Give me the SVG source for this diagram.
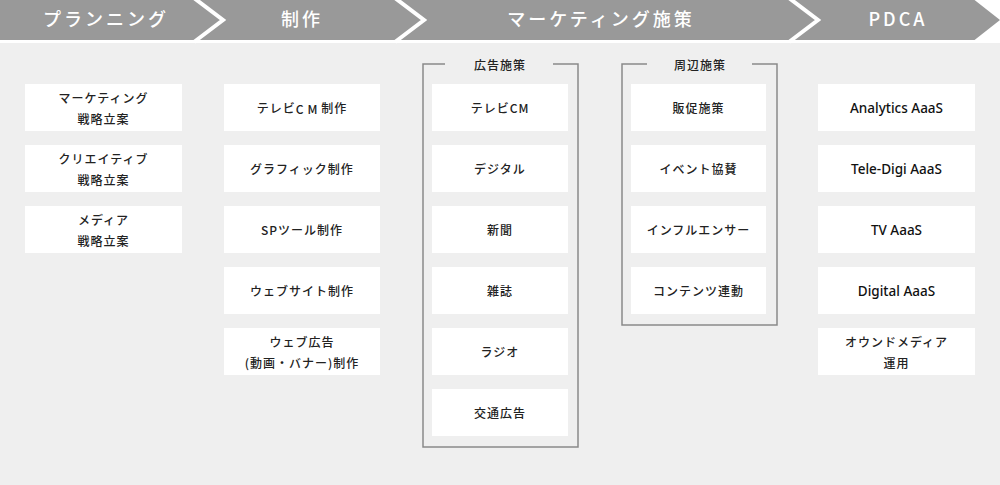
<svg xmlns="http://www.w3.org/2000/svg" width="1000" height="485" viewBox="0 0 1000 485">
<style>
.hd{fill:#fff;font-family:"Noto Sans CJK JP","Noto Sans",sans-serif;font-size:18px;font-weight:500;letter-spacing:3px;text-anchor:middle;dominant-baseline:central}
.bx{fill:#fff}
.t{fill:#222;font-family:"Noto Sans CJK JP","Noto Sans",sans-serif;font-size:12px;font-weight:500;letter-spacing:1px;text-anchor:middle;dominant-baseline:central}
.tl{fill:#111;font-family:"Noto Sans","DejaVu Sans",sans-serif;font-size:13.5px;font-weight:500;text-anchor:middle;dominant-baseline:central}
.fr{fill:none;stroke:#8a8a8a;stroke-width:1.5}
.cv{fill:none;stroke:#fff;stroke-width:4}
</style>
<rect x="0" y="0" width="1000" height="485" fill="#efefef"/>
<g id="header">
<rect x="0" y="0" width="1000" height="40" fill="#999"/>
<polygon points="972,-2 1000,20 972,42 1000,42 1000,-2" fill="#fff"/>
<polyline class="cv" points="194,-2 223,20 194,42"/>
<polyline class="cv" points="395,-2 424,20 395,42"/>
<polyline class="cv" points="789,-2 818,20 789,42"/>
<rect x="0" y="40" width="1000" height="3" fill="#fff"/>
<text class="hd" x="106" y="18">プランニング</text>
<text class="hd" x="302" y="18">制作</text>
<text class="hd" x="601" y="18">マーケティング施策</text>
<text class="hd" x="898" y="18">PDCA</text>
</g>
<g id="frames">
<path class="fr" d="M445,64 H423 V447 H578 V64 H553"/>
<text class="t" x="500" y="64" font-size="13">広告施策</text>
<path class="fr" d="M647,64 H622 V325 H777 V64 H752"/>
<text class="t" x="700" y="64" font-size="13">周辺施策</text>
</g>
<g id="planning">
<g id="p1"><rect class="bx" x="25" y="84" width="157" height="47"/><text class="t" x="103.5" y="97.5">マーケティング</text><text class="t" x="103.5" y="118">戦略立案</text></g>
<g id="p2"><rect class="bx" x="25" y="145" width="157" height="47"/><text class="t" x="103.5" y="158.5">クリエイティブ</text><text class="t" x="103.5" y="179">戦略立案</text></g>
<g id="p3"><rect class="bx" x="25" y="206" width="157" height="47"/><text class="t" x="103.5" y="219.5">メディア</text><text class="t" x="103.5" y="240">戦略立案</text></g>
</g>
<g id="production">
<g id="s1"><rect class="bx" x="224" y="84" width="156" height="47"/><text class="t" x="302" y="107.5">テレビ<tspan letter-spacing="4px">CM</tspan>制作</text></g>
<g id="s2"><rect class="bx" x="224" y="145" width="156" height="47"/><text class="t" x="302" y="168.5">グラフィック制作</text></g>
<g id="s3"><rect class="bx" x="224" y="206" width="156" height="47"/><text class="t" x="302" y="229.5">SPツール制作</text></g>
<g id="s4"><rect class="bx" x="224" y="267" width="156" height="47"/><text class="t" x="302" y="290.5">ウェブサイト制作</text></g>
<g id="s5"><rect class="bx" x="224" y="328" width="156" height="47"/><text class="t" x="302" y="341.5">ウェブ広告</text><text class="t" x="302" y="362">(動画・バナー)制作</text></g>
</g>
<g id="ads">
<g id="a1"><rect class="bx" x="432" y="84" width="136" height="47"/><text class="t" x="500" y="107.5">テレビCM</text></g>
<g id="a2"><rect class="bx" x="432" y="145" width="136" height="47"/><text class="t" x="500" y="168.5">デジタル</text></g>
<g id="a3"><rect class="bx" x="432" y="206" width="136" height="47"/><text class="t" x="500" y="229.5">新聞</text></g>
<g id="a4"><rect class="bx" x="432" y="267" width="136" height="47"/><text class="t" x="500" y="290.5">雑誌</text></g>
<g id="a5"><rect class="bx" x="432" y="328" width="136" height="47"/><text class="t" x="500" y="351.5">ラジオ</text></g>
<g id="a6"><rect class="bx" x="432" y="389" width="136" height="47"/><text class="t" x="500" y="412.5">交通広告</text></g>
</g>
<g id="peripheral">
<g id="b1"><rect class="bx" x="631" y="84" width="135" height="47"/><text class="t" x="698.5" y="107.5">販促施策</text></g>
<g id="b2"><rect class="bx" x="631" y="145" width="135" height="47"/><text class="t" x="698.5" y="168.5">イベント協賛</text></g>
<g id="b3"><rect class="bx" x="631" y="206" width="135" height="47"/><text class="t" x="698.5" y="229.5">インフルエンサー</text></g>
<g id="b4"><rect class="bx" x="631" y="267" width="135" height="47"/><text class="t" x="698.5" y="290.5">コンテンツ連動</text></g>
</g>
<g id="pdca">
<g id="d1"><rect class="bx" x="818" y="84" width="157" height="47"/><text class="tl" x="896.5" y="107.5">Analytics AaaS</text></g>
<g id="d2"><rect class="bx" x="818" y="145" width="157" height="47"/><text class="tl" x="896.5" y="168.5">Tele-Digi AaaS</text></g>
<g id="d3"><rect class="bx" x="818" y="206" width="157" height="47"/><text class="tl" x="896.5" y="229.5">TV AaaS</text></g>
<g id="d4"><rect class="bx" x="818" y="267" width="157" height="47"/><text class="tl" x="896.5" y="290.5">Digital AaaS</text></g>
<g id="d5"><rect class="bx" x="818" y="328" width="157" height="47"/><text class="t" x="896.5" y="341.5">オウンドメディア</text><text class="t" x="896.5" y="362">運用</text></g>
</g>
<g id="connectors"></g>
</svg>
